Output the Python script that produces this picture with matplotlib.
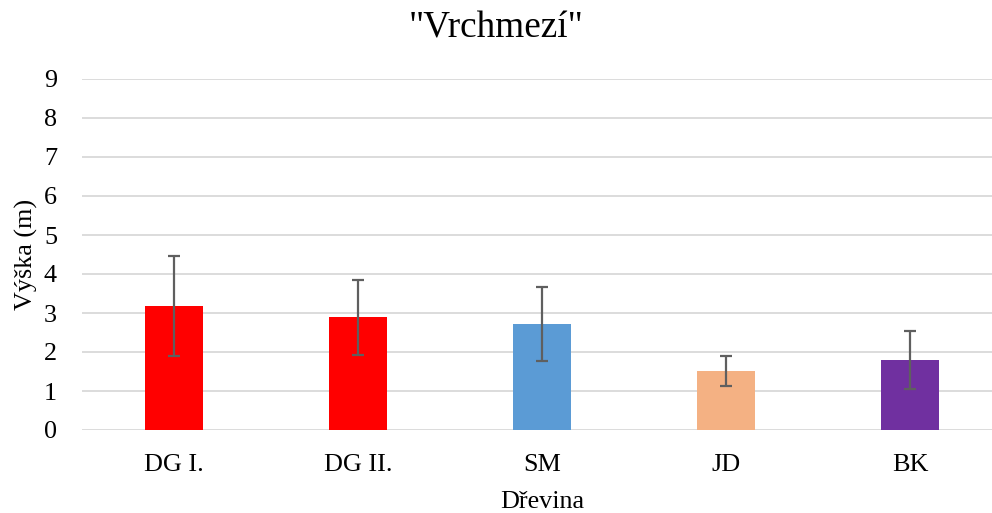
import matplotlib
matplotlib.use("Agg")
import matplotlib.pyplot as plt

categories = ["DG I.", "DG II.", "SM", "JD", "BK"]
heights = [3.18, 2.89, 2.72, 1.51, 1.79]
errors = [1.27, 0.96, 0.94, 0.38, 0.74]
colors = ["#FF0000", "#FF0000", "#5B9BD5", "#F4B183", "#7030A0"]
yticks = [0, 1, 2, 3, 4, 5, 6, 7, 8, 9]

plt.rcParams['font.family'] = ['Liberation Serif', 'DejaVu Serif']

W, H = 992, 513
fig = plt.figure(figsize=(W / 100, H / 100), dpi=100)
left, right = 82, 1002
top, bottom = 79, 430
ax = fig.add_axes([left / W, (H - bottom) / H, (right - left) / W, (bottom - top) / H])

x = list(range(len(categories)))
ax.bar(x, heights, width=0.315, color=colors, zorder=3)
ax.errorbar(x, heights, yerr=errors, fmt='none', ecolor='#5f5f5f',
            elinewidth=1.6, capsize=4.3, capthick=1.6, zorder=4)

ax.set_xlim(-0.5, 4.5)
ax.set_ylim(0, 9)
ax.set_yticks(yticks)
ax.set_xticks(x)
ax.set_xticklabels(categories)
ax.tick_params(axis='both', length=0, labelsize=18.8)
ax.tick_params(axis='x', pad=17)
ax.tick_params(axis='y', pad=18)
ax.grid(axis='y', color='#d9d9d9', linewidth=1.3, zorder=0)
for s in ax.spines.values():
    s.set_visible(False)

ax.set_xlabel("Dřevina", fontsize=18.8, labelpad=11)
ax.set_ylabel("Výška (m)", fontsize=18.8, labelpad=4)
fig.text(0.5, 1 - 28 / H, '"Vrchmezí"', ha='center', va='center', fontsize=26.8)

fig.savefig("out.png", dpi=100, facecolor='white')
